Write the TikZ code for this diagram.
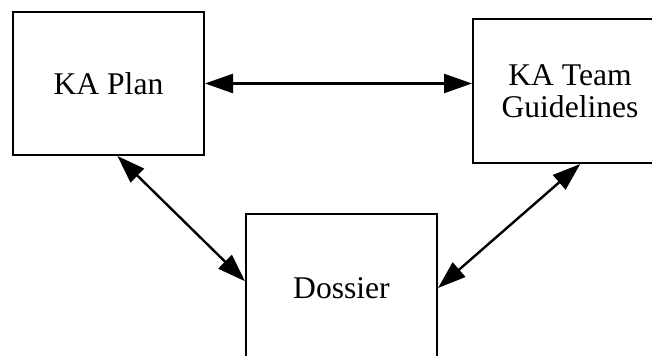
\documentclass[tikz,border=0pt]{standalone}
\usepackage{fontspec}
\setmainfont{Liberation Serif}
\usetikzlibrary{arrows.meta}

\begin{document}
\begin{tikzpicture}[x=0.5pt, y=-0.5pt,
  box/.style={draw, line width=1pt, inner sep=0pt, align=center,
    font=\fontsize{15.8}{16}\selectfont},
  link/.style={line width=1.2pt, {Triangle[length=14pt,width=9.5pt]}-{Triangle[length=14pt,width=9.5pt]}}]
\clip (0, 0) rectangle (652, 356);

\node[box, minimum width=95.5pt, minimum height=71.5pt] (plan) at (108.5, 83.5) {KA Plan};
\node[box, minimum width=97pt, minimum height=72pt] (team) at (570, 91) {KA Team\\Guidelines};
\node[box, minimum width=95.5pt, minimum height=74pt] (dossier) at (341.5, 288) {Dossier};

\draw[link] (plan.east) -- (plan.east -| team.west);
\draw[link] (plan.-83) -- (dossier.176);
\draw[link] (team.-82) -- (dossier.0);
\end{tikzpicture}
\end{document}
